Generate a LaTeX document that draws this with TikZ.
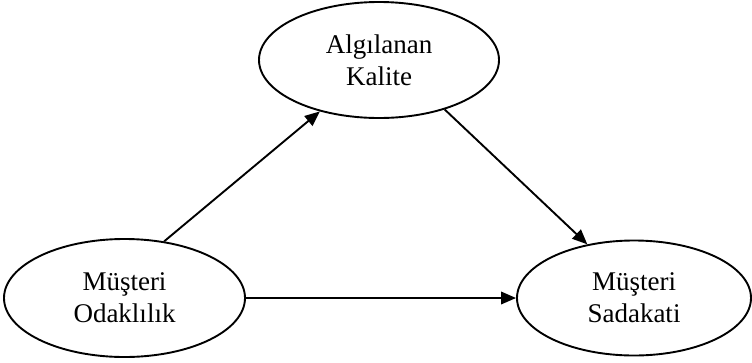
\documentclass[tikz,border=0pt]{standalone}
\usepackage{fontspec}
\setmainfont{Liberation Serif}
\usetikzlibrary{shapes.geometric,arrows.meta}
\begin{document}
\begin{tikzpicture}[x=1pt,y=-1pt,
  konstrukt/.style={draw=black,line width=1.9pt,ellipse,inner sep=0pt,align=center,
    font=\fontsize{27}{32}\selectfont},
  ok/.style={line width=1.9pt,-{Triangle[length=15pt,width=12.5pt]}}]
\useasboundingbox (0,0) rectangle (752,362);
\node[konstrukt,minimum width=240pt,minimum height=116pt] (T) at (379,60) {Algılanan\\Kalite};
\node[konstrukt,minimum width=241pt,minimum height=118pt] (L) at (124.5,298) {Müşteri\\Odaklılık};
\node[konstrukt,minimum width=234pt,minimum height=115pt] (R) at (634,298) {Müşteri\\Sadakati};
\draw[ok] (L.55.5) -- (T.221.5);
\draw[ok] (T.-37.4) -- (R.131);
\draw[ok] (L.east) -- (R.west);
\end{tikzpicture}
\end{document}
